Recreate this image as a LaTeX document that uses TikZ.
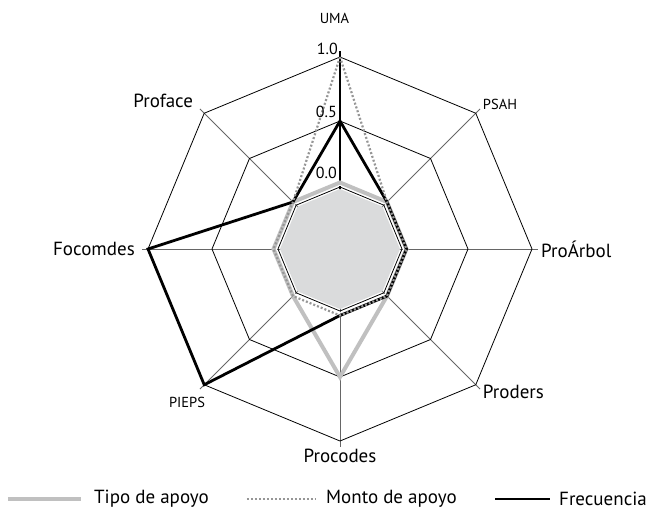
\documentclass[tikz,border=0pt]{standalone}
\usepackage{fontspec}
\setmainfont{PT Sans}
\usepackage{tikz}
\usetikzlibrary{calc,positioning}
\definecolor{fillgray}{RGB}{218,219,220}
\definecolor{tipogray}{RGB}{192,192,192}
\definecolor{montogray}{RGB}{150,150,150}
\tikzstyle{grid}       = [black, line width=0.8pt]
\tikzstyle{spoke}      = [black!60, line width=0.8pt]
\tikzstyle{valueaxis}  = [black, line width=1.4pt]
\tikzstyle{tipo}       = [tipogray, line width=4pt]
\tikzstyle{monto}      = [montogray, line width=2.2pt, dash pattern=on 2pt off 2pt]
\tikzstyle{frec}       = [black, line width=2.8pt]
\tikzstyle{axislabel}  = [inner sep=0pt, font=\fontsize{19}{22}\selectfont]
\tikzstyle{smalllabel} = [inner sep=0pt, font=\fontsize{14.5}{17}\selectfont]
\tikzstyle{ticklabel}  = [inner sep=0pt, font=\fontsize{16}{19}\selectfont]
\newcommand{\octring}[1]{(90:#1) -- (45:#1) -- (0:#1) -- (-45:#1) -- (-90:#1) -- (-135:#1) -- (180:#1) -- (135:#1) -- cycle}

\begin{document}
\begin{tikzpicture}[%
    x=1pt, y=1pt,
    node distance=4pt,
    line join=miter
  ]
      \useasboundingbox (-340,-266) rectangle (319,249);
      %Axes
      \coordinate (uma) at (90:192);
      \coordinate (psah) at (45:192);
      \coordinate (arbol) at (0:192);
      \coordinate (proders) at (-45:192);
      \coordinate (procodes) at (-90:192);
      \coordinate (pieps) at (-135:192);
      \coordinate (focomdes) at (180:192);
      \coordinate (proface) at (135:192);
      \draw[spoke] (0,0) -- (45:198);
      \draw[spoke] (0,0) -- (0:198);
      \draw[spoke] (0,0) -- (-45:198);
      \draw[spoke] (0,0) -- (-90:198);
      \draw[spoke] (0,0) -- (-135:198);
      \draw[spoke] (0,0) -- (180:198);
      \draw[spoke] (0,0) -- (135:198);
      \draw[valueaxis] (0,0) -- (90:198);
      %Grid
      \fill[fillgray] \octring{60};
      \draw[grid] \octring{62};
      \draw[white, line width=1.2pt] \octring{64};
      \draw[grid] \octring{128};
      \draw[grid] \octring{192};
      %Series
      \draw[tipo] (90:66.5) -- (45:66.5) -- (0:66.5) -- (-45:66.5) -- (-90:128) -- (-135:66.5) -- (180:66.5) -- (135:66.5) -- cycle;
      \draw[frec] (90:128) -- (45:66.5) -- (0:66.5) -- (-45:66.5) -- (-90:66.5) -- (-135:192) -- (180:192) -- (135:66.5) -- cycle;
      \draw[monto] (90:192) -- (45:66.5) -- (0:66.5) -- (-45:66.5) -- (-90:66.5) -- (-135:66.5) -- (180:66.5) -- (135:66.5) -- cycle;
      %Scale
      \coordinate (half) at (90:128);
      \coordinate (zero) at (90:64);
      \node[ticklabel, above left=2pt and 2pt of uma] (one) {1.0};
      \node[ticklabel, above left=3pt and 3pt of half] (halfL) {0.5};
      \node[ticklabel, above left=6pt and 3pt of zero] (zeroL) {0.0};
      %Labels
      \node[smalllabel, above=33pt of uma, xshift=-5.5pt] (umaL) {UMA};
      \node[smalllabel, above right=3pt and 7pt of psah] (psahL) {PSAH};
      \node[axislabel, right=9pt of arbol] (arbolL) {ProÁrbol};
      \node[axislabel, below right=0pt and 7pt of proders] (prodersL) {Proders};
      \node[axislabel, below=8pt of procodes] (procodesL) {Procodes};
      \node[smalllabel, below left=12pt and -1pt of pieps] (piepsL) {PIEPS};
      \node[axislabel, left=13pt of focomdes] (focomdesL) {Focomdes};
      \node[axislabel, above left=5pt and 11pt of proface] (profaceL) {Proface};
      %Legend
      \coordinate (tipoA) at (-332,-250);
      \coordinate (tipoB) at (-259,-250);
      \coordinate (montoA) at (-93,-250);
      \coordinate (montoB) at (-24,-250);
      \coordinate (frecA) at (155,-250);
      \coordinate (frecB) at (210,-250);
      \draw[tipo] (tipoA) -- (tipoB);
      \draw[monto, line width=1.4pt] (montoA) -- (montoB);
      \draw[frec] (frecA) -- (frecB);
      \node[axislabel, right=13pt of tipoB] (tipoL) {Tipo de apoyo};
      \node[axislabel, right=10pt of montoB] (montoL) {Monto de apoyo};
      \node[axislabel, right=9pt of frecB] (frecL) {Frecuencia};
\end{tikzpicture}
\end{document}
